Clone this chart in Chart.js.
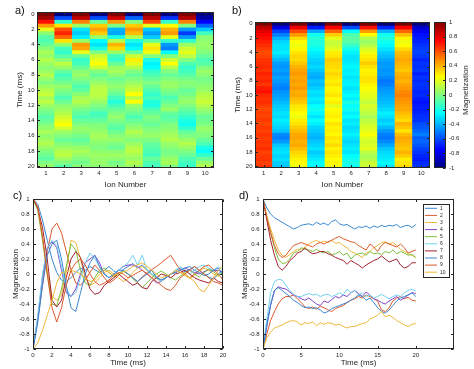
<!DOCTYPE html>
<html>
<head>
<meta charset="utf-8">
<script src="https://cdn.jsdelivr.net/npm/chart.js@4.4.0/dist/chart.umd.min.js"></script>
<style>
  html, body { margin: 0; padding: 0; background: #fff; }
  #wrap { position: relative; width: 474px; height: 369px; overflow: hidden; font-family: 'Liberation Sans', Arial, sans-serif; color: #262626; }
  canvas { position: absolute; left: 0; top: 0; }
  .tag { position: absolute; font-size: 11px; line-height: 11px; color: #111; }
  #cbLabel { position: absolute; left: 466px; top: 90px; font-size: 8px; line-height: 8px; white-space: nowrap; transform: translate(-50%, -50%) rotate(-90deg); }
</style>
</head>
<body>
<div id="wrap">
  <canvas id="chartA" width="474" height="369"></canvas>
  <canvas id="chartB" width="474" height="369"></canvas>
  <canvas id="chartC" width="474" height="369"></canvas>
  <canvas id="chartD" width="474" height="369"></canvas>
  <div class="tag" style="left:15px;top:5px">a)</div>
  <div class="tag" style="left:232px;top:5px">b)</div>
  <div class="tag" style="left:13px;top:190px">c)</div>
  <div class="tag" style="left:239px;top:190px">d)</div>
  <div id="cbLabel">Magnetization</div>
</div>
<script>
// ion labels, time grid and tick values
const ions = ['1', '2', '3', '4', '5', '6', '7', '8', '9', '10'];
const times = [0, 0.5, 1, 1.5, 2, 2.5, 3, 3.5, 4, 4.5, 5, 5.5, 6, 6.5, 7, 7.5, 8, 8.5, 9, 9.5, 10,
  10.5, 11, 11.5, 12, 12.5, 13, 13.5, 14, 14.5, 15, 15.5, 16, 16.5, 17, 17.5, 18, 18.5, 19, 19.5, 20];
const heatTimeTicks = [0, 2, 4, 6, 8, 10, 12, 14, 16, 18, 20];
const magTicks = [-1, -0.8, -0.6, -0.4, -0.2, 0, 0.2, 0.4, 0.6, 0.8, 1];
const timeTicksC = [0, 2, 4, 6, 8, 10, 12, 14, 16, 18, 20];
const timeTicksD = [0, 5, 10, 15, 20];

// panel a / c : magnetization of each ion
const magA1 = [1, 0.93, 0.72, 0.45, 0.2, 0.02, -0.08, -0.1, -0.05, 0.02, 0.08, 0.05, 0.1, 0.06, 0.02, 0.05, 0.1, 0.04, 0, 0.06, 0.1, 0.14, 0.08, 0.12, 0.06, 0, -0.04, -0.08, -0.05, 0, 0.04, 0.08, 0.03, 0.06, 0.1, 0.05, 0, -0.04, -0.07, 0, 0.05];
const magA2 = [-1, -0.6, -0.15, 0.3, 0.6, 0.68, 0.55, 0.3, 0.05, -0.12, -0.15, -0.08, 0.02, 0.12, 0.05, -0.05, -0.12, -0.08, -0.02, 0.04, 0, -0.05, -0.1, -0.04, 0.02, 0.06, 0.1, 0.15, 0.2, 0.25, 0.15, 0.05, 0, -0.05, 0, 0.05, 0.1, 0.12, 0.06, 0, -0.08];
const magA3 = [1, 0.88, 0.5, 0.05, -0.3, -0.35, -0.28, 0.05, 0.45, 0.42, 0.2, -0.05, -0.15, -0.12, -0.05, 0.02, 0.05, 0, -0.05, -0.1, -0.06, 0.02, 0.08, 0.1, 0.05, -0.02, -0.06, -0.1, -0.05, 0, 0.05, 0.02, -0.02, -0.06, -0.02, 0.04, 0.08, 0.05, 0, -0.03, 0.02];
const magA4 = [-1, -0.6, -0.05, 0.35, 0.43, 0.35, 0.05, -0.25, -0.3, -0.2, 0, 0.15, 0.2, 0.25, 0.15, 0, -0.05, 0, 0.05, 0.1, 0.12, 0.12, 0.1, 0.05, 0, -0.05, -0.12, -0.1, -0.05, 0, 0.02, 0.05, 0.08, 0.05, 0.02, 0, 0.03, 0.06, 0.04, 0.05, 0.02];
const magA5 = [1, 0.85, 0.45, 0, -0.4, -0.42, -0.2, 0.1, 0.4, 0.32, 0.05, -0.12, -0.15, -0.05, 0.05, 0.08, 0.02, -0.04, 0, 0.04, 0, -0.06, -0.12, -0.18, -0.12, -0.05, 0, 0.04, 0, -0.05, -0.08, -0.03, 0.02, 0.05, 0, -0.04, 0.02, 0.06, 0.03, -0.02, 0.02];
const magA6 = [-1, -0.55, 0, 0.35, 0.45, 0.38, 0.1, -0.2, -0.3, -0.25, -0.05, 0.15, 0.28, 0.2, 0.1, 0, -0.05, 0, 0.05, 0.1, 0.15, 0.25, 0.12, 0.25, 0.05, 0, -0.05, -0.1, -0.05, 0, 0.05, 0.1, 0.05, 0, 0.05, 0.1, 0.12, 0.08, 0.05, 0.1, 0.05];
const magA7 = [1, 0.88, 0.62, 0.2, -0.35, -0.44, -0.35, -0.05, 0.2, 0.3, 0.22, 0, -0.2, -0.27, -0.25, -0.15, -0.1, -0.05, 0, -0.05, -0.1, -0.15, -0.12, -0.18, -0.2, -0.1, -0.05, 0, -0.02, -0.05, 0, 0.02, 0.05, 0, -0.05, -0.08, -0.1, -0.12, -0.05, -0.1, -0.12];
const magA8 = [-1, -0.65, -0.15, 0.25, 0.4, 0.45, 0.2, -0.15, -0.45, -0.5, -0.25, 0, 0.15, 0.25, 0.1, 0, -0.05, 0, 0.05, 0.05, 0, -0.05, -0.1, -0.05, 0, 0.05, -0.05, -0.08, -0.05, 0, 0.02, 0.05, 0.08, 0.1, 0.05, 0.02, -0.02, 0, 0.05, 0.08, 0];
const magA9 = [1, 0.9, 0.5, 0, -0.45, -0.64, -0.45, -0.15, 0.05, 0.15, 0.2, 0.12, 0, -0.1, -0.15, -0.12, -0.08, -0.02, 0.02, 0, -0.05, -0.02, 0.02, 0.05, 0, -0.05, -0.1, -0.15, -0.2, -0.22, -0.15, -0.05, 0, 0.05, 0.1, 0.05, 0, -0.05, -0.1, -0.12, -0.15];
const magA10 = [-1, -0.92, -0.75, -0.55, -0.35, -0.12, 0.02, 0.03, 0.05, 0.03, 0, -0.05, -0.1, -0.08, 0, 0.05, 0.02, -0.02, 0, 0.03, 0.05, 0.1, 0.12, 0.15, 0.1, 0.05, 0, -0.05, -0.03, 0, 0.05, 0.02, 0, -0.05, -0.1, -0.2, -0.24, -0.15, -0.05, 0.05, 0.1];

// panel b / d
const magB1 = [1, 0.88, 0.8, 0.75, 0.72, 0.69, 0.66, 0.63, 0.6, 0.62, 0.65, 0.66, 0.67, 0.65, 0.69, 0.66, 0.68, 0.65, 0.7, 0.72, 0.67, 0.65, 0.66, 0.63, 0.6, 0.63, 0.62, 0.64, 0.61, 0.64, 0.62, 0.65, 0.63, 0.65, 0.64, 0.66, 0.62, 0.64, 0.65, 0.62, 0.66];
const magB2 = [-1, -0.8, -0.62, -0.5, -0.4, -0.33, -0.3, -0.3, -0.28, -0.33, -0.38, -0.44, -0.46, -0.44, -0.47, -0.43, -0.45, -0.48, -0.5, -0.46, -0.44, -0.42, -0.38, -0.35, -0.33, -0.3, -0.32, -0.28, -0.3, -0.33, -0.36, -0.48, -0.5, -0.45, -0.36, -0.32, -0.3, -0.33, -0.31, -0.35, -0.36];
const magB3 = [1, 0.78, 0.6, 0.45, 0.32, 0.25, 0.22, 0.26, 0.3, 0.33, 0.32, 0.36, 0.4, 0.43, 0.45, 0.42, 0.44, 0.42, 0.45, 0.41, 0.42, 0.38, 0.35, 0.3, 0.28, 0.25, 0.22, 0.28, 0.3, 0.35, 0.38, 0.42, 0.43, 0.4, 0.42, 0.38, 0.33, 0.3, 0.27, 0.25, 0.22];
const magB4 = [-1, -0.7, -0.42, -0.22, -0.17, -0.19, -0.2, -0.24, -0.28, -0.3, -0.33, -0.35, -0.32, -0.36, -0.4, -0.42, -0.36, -0.38, -0.34, -0.3, -0.32, -0.28, -0.3, -0.25, -0.22, -0.26, -0.3, -0.24, -0.28, -0.33, -0.35, -0.38, -0.4, -0.36, -0.33, -0.3, -0.35, -0.32, -0.28, -0.25, -0.26];
const magB5 = [1, 0.75, 0.55, 0.35, 0.2, 0.14, 0.15, 0.2, 0.28, 0.3, 0.35, 0.33, 0.32, 0.3, 0.33, 0.3, 0.28, 0.3, 0.26, 0.27, 0.3, 0.25, 0.28, 0.2, 0.25, 0.27, 0.28, 0.25, 0.3, 0.27, 0.28, 0.26, 0.3, 0.28, 0.32, 0.27, 0.3, 0.28, 0.25, 0.26, 0.22];
const magB6 = [-1, -0.6, -0.25, -0.1, -0.07, -0.08, -0.15, -0.22, -0.27, -0.3, -0.3, -0.28, -0.26, -0.28, -0.27, -0.3, -0.28, -0.27, -0.3, -0.28, -0.25, -0.28, -0.2, -0.25, -0.22, -0.28, -0.25, -0.3, -0.28, -0.32, -0.3, -0.27, -0.3, -0.33, -0.3, -0.28, -0.3, -0.25, -0.22, -0.2, -0.23];
const magB7 = [1, 0.72, 0.45, 0.25, 0.1, 0.05, 0.1, 0.18, 0.22, 0.28, 0.3, 0.35, 0.3, 0.27, 0.28, 0.3, 0.3, 0.27, 0.25, 0.22, 0.2, 0.18, 0.13, 0.18, 0.15, 0.12, 0.08, 0.12, 0.15, 0.18, 0.2, 0.24, 0.2, 0.16, 0.18, 0.2, 0.12, 0.08, 0.1, 0.15, 0.15];
const magB8 = [-1, -0.68, -0.4, -0.22, -0.18, -0.22, -0.26, -0.3, -0.35, -0.38, -0.42, -0.45, -0.44, -0.46, -0.45, -0.48, -0.52, -0.5, -0.46, -0.44, -0.42, -0.4, -0.38, -0.35, -0.32, -0.28, -0.3, -0.35, -0.32, -0.38, -0.45, -0.5, -0.52, -0.48, -0.42, -0.36, -0.32, -0.3, -0.28, -0.25, -0.3];
const magB9 = [1, 0.75, 0.55, 0.38, 0.27, 0.22, 0.25, 0.32, 0.38, 0.4, 0.42, 0.4, 0.38, 0.36, 0.4, 0.42, 0.4, 0.43, 0.45, 0.48, 0.5, 0.47, 0.45, 0.43, 0.42, 0.38, 0.35, 0.32, 0.4, 0.36, 0.3, 0.38, 0.42, 0.4, 0.38, 0.36, 0.4, 0.35, 0.28, 0.3, 0.32];
const magB10 = [-1, -0.85, -0.78, -0.72, -0.7, -0.68, -0.65, -0.63, -0.62, -0.64, -0.68, -0.65, -0.66, -0.64, -0.69, -0.65, -0.67, -0.65, -0.66, -0.68, -0.67, -0.7, -0.72, -0.7, -0.7, -0.68, -0.66, -0.65, -0.6, -0.58, -0.55, -0.5, -0.57, -0.55, -0.58, -0.62, -0.65, -0.68, -0.7, -0.67, -0.66];

const magA = [magA1, magA2, magA3, magA4, magA5, magA6, magA7, magA8, magA9, magA10];
const magB = [magB1, magB2, magB3, magB4, magB5, magB6, magB7, magB8, magB9, magB10];

const ionColors = ['#3a87cf', '#db5a2c', '#ecb83a', '#8543c4', '#7ebf3c', '#72d0ee', '#a3202f', '#3a87cf', '#db5a2c', '#ecb83a'];

const ink = '#262626';
Chart.defaults.font.family = "'Liberation Sans', Arial, sans-serif";
Chart.defaults.color = ink;
const tickFont = { size: 6, lineHeight: 1 };
const titleFont = { size: 8, lineHeight: 1 };
const fmt = v => String(Math.round(v * 10) / 10);

// jet colormap on [-1, 1]
function jet(v) {
  const n = Math.min(1, Math.max(0, (v + 1) / 2));
  const c = x => Math.round(255 * Math.min(1, Math.max(0, x)));
  const r = c(Math.min(4 * n - 1.5, -4 * n + 4.5));
  const g = c(Math.min(4 * n - 0.5, -4 * n + 3.5));
  const b = c(Math.min(4 * n + 0.5, -4 * n + 2.5));
  return `rgb(${r},${g},${b})`;
}
const jetStops = [[0, '#000080'], [0.125, '#0000ff'], [0.375, '#00ffff'], [0.625, '#ffff00'], [0.875, '#ff0000'], [1, '#800000']];

// box around the plot with inward ticks (matlab look)
const boxTicks = {
  id: 'boxTicks',
  afterDraw(chart) {
    const { ctx, chartArea: a, scales } = chart;
    const L = Math.round(a.left) + 0.5, R = Math.round(a.right) - 0.5;
    const T = Math.round(a.top) + 0.5, B = Math.round(a.bottom) - 0.5;
    const len = 2.5;
    ctx.save();
    ctx.strokeStyle = ink;
    ctx.lineWidth = 1;
    ctx.beginPath();
    scales.x.ticks.forEach((t, i) => {
      const px = Math.round(scales.x.getPixelForTick(i)) + 0.5;
      ctx.moveTo(px, B); ctx.lineTo(px, B - len);
      ctx.moveTo(px, T); ctx.lineTo(px, T + len);
    });
    scales.y.ticks.forEach((t, i) => {
      const py = Math.round(scales.y.getPixelForTick(i)) + 0.5;
      ctx.moveTo(L, py); ctx.lineTo(L + len, py);
      ctx.moveTo(R, py); ctx.lineTo(R - len, py);
    });
    ctx.stroke();
    ctx.strokeRect(L, T, R - L, B - T);
    ctx.restore();
  }
};

// colorbar for panel b, drawn along the y2 scale
const colorbar = {
  id: 'colorbar',
  afterDraw(chart) {
    const { ctx, chartArea: a, scales: { y2 } } = chart;
    const top = Math.round(y2.getPixelForValue(1)), bot = Math.round(y2.getPixelForValue(-1));
    const x0 = Math.round(a.right) + 4, w = 12;
    const g = ctx.createLinearGradient(0, bot, 0, top);
    jetStops.forEach(([s, col]) => g.addColorStop(s, col));
    ctx.save();
    ctx.fillStyle = g;
    ctx.fillRect(x0, top, w, bot - top);
    ctx.strokeStyle = ink;
    ctx.lineWidth = 1;
    ctx.strokeRect(x0 + 0.5, top + 0.5, w - 1, bot - top - 1);
    ctx.beginPath();
    y2.ticks.forEach((t, i) => {
      const py = Math.round(y2.getPixelForTick(i)) + 0.5;
      ctx.moveTo(x0 + w - 0.5, py); ctx.lineTo(x0 + w - 3, py);
    });
    ctx.stroke();
    ctx.restore();
  }
};

// legend box inside panel d
const lineLegend = {
  id: 'lineLegend',
  afterDraw(chart) {
    const { ctx, chartArea: a } = chart;
    const x0 = Math.round(a.right) - 31, y0 = Math.round(a.top) + 5, w = 26, h = 73;
    ctx.save();
    ctx.fillStyle = '#fff';
    ctx.fillRect(x0, y0, w, h);
    ctx.strokeStyle = ink;
    ctx.lineWidth = 1;
    ctx.strokeRect(x0 + 0.5, y0 + 0.5, w, h);
    ctx.font = "5px 'Liberation Sans', Arial, sans-serif";
    ctx.textBaseline = 'middle';
    chart.data.datasets.forEach((ds, i) => {
      const y = y0 + 4.3 + i * 7.1;
      ctx.strokeStyle = ds.borderColor;
      ctx.beginPath();
      ctx.moveTo(x0 + 2, y); ctx.lineTo(x0 + 14, y);
      ctx.stroke();
      ctx.fillStyle = ink;
      ctx.fillText(ds.label, x0 + 17, y);
    });
    ctx.restore();
  }
};

function heatDatasets(series) {
  return times.map((t, i) => ({
    data: ions.map(() => [t - 0.25, t + 0.25]),
    backgroundColor: series.map(s => jet(s[i])),
    borderWidth: 0,
    grouped: false,
    barPercentage: 1,
    categoryPercentage: 1
  }));
}

function lineDatasets(series) {
  return series.map((s, j) => ({
    label: ions[j],
    data: times.map((t, i) => ({ x: t, y: s[i] })),
    borderColor: ionColors[j],
    borderWidth: 1,
    pointRadius: 0,
    tension: 0,
    order: series.length - j
  }));
}

const noGrid = { display: false, drawTicks: false };

function heatChart(id, series, pad, extraPlugins, extraScales) {
  return new Chart(document.getElementById(id), {
    type: 'bar',
    data: { labels: ions, datasets: heatDatasets(series) },
    options: {
      responsive: false,
      animation: false,
      events: [],
      layout: { padding: pad },
      plugins: { legend: { display: false }, tooltip: { enabled: false } },
      scales: Object.assign({
        x: {
          type: 'category',
          grid: noGrid,
          border: { display: false },
          ticks: { padding: 2.5, font: tickFont, color: ink, maxRotation: 0, autoSkip: false },
          title: { display: true, text: 'Ion Number', font: titleFont, color: ink, padding: 0 },
          afterFit: s => { s.height = 21; }
        },
        y: {
          type: 'linear',
          reverse: true,
          min: -0.25,
          max: 20.25,
          afterBuildTicks: s => { s.ticks = heatTimeTicks.map(v => ({ value: v })); },
          grid: noGrid,
          border: { display: false },
          ticks: { padding: 2.5, font: tickFont, color: ink, autoSkip: false, callback: v => String(v) },
          title: { display: true, text: 'Time (ms)', font: titleFont, color: ink, padding: 0 },
          afterFit: s => { s.width = 21; }
        }
      }, extraScales || {})
    },
    plugins: [boxTicks].concat(extraPlugins || [])
  });
}

function lineChart(id, series, pad, xMax, xTicks, yWidth, extraPlugins) {
  return new Chart(document.getElementById(id), {
    type: 'line',
    data: { datasets: lineDatasets(series) },
    options: {
      responsive: false,
      animation: false,
      events: [],
      layout: { padding: pad },
      plugins: { legend: { display: false }, tooltip: { enabled: false } },
      scales: {
        x: {
          type: 'linear',
          min: 0,
          max: xMax,
          afterBuildTicks: s => { s.ticks = xTicks.map(v => ({ value: v })); },
          grid: noGrid,
          border: { display: false },
          ticks: { padding: 3, font: tickFont, color: ink, maxRotation: 0, autoSkip: false, callback: v => String(v) },
          title: { display: true, text: 'Time (ms)', font: titleFont, color: ink, padding: 0 },
          afterFit: s => { s.height = 18; }
        },
        y: {
          type: 'linear',
          min: -1,
          max: 1,
          afterBuildTicks: s => { s.ticks = magTicks.map(v => ({ value: v })); },
          grid: noGrid,
          border: { display: false },
          ticks: { padding: 3.5, font: tickFont, color: ink, autoSkip: false, callback: fmt },
          title: { display: true, text: 'Magnetization', font: titleFont, color: ink, padding: 0 },
          afterFit: s => { s.width = yWidth; }
        }
      }
    },
    plugins: [boxTicks].concat(extraPlugins || [])
  });
}

heatChart('chartA', magA, { left: 16, top: 12, right: 260, bottom: 180 });

heatChart('chartB', magB, { left: 234, top: 12, right: 0, bottom: 180 }, [colorbar], {
  y2: {
    type: 'linear',
    position: 'right',
    min: -1,
    max: 1,
    afterBuildTicks: s => { s.ticks = magTicks.map(v => ({ value: v })); },
    grid: noGrid,
    border: { display: false },
    ticks: { padding: 19, font: tickFont, color: ink, autoSkip: false, callback: fmt },
    afterFit: s => { s.width = 44; }
  }
});

lineChart('chartC', magA, { left: 12, top: 199, right: 251, bottom: 2 }, 20, timeTicksC, 21);
lineChart('chartD', magB, { left: 241, top: 199, right: 20, bottom: 2 }, 25, timeTicksD, 22, [lineLegend]);
</script>
</body>
</html>
